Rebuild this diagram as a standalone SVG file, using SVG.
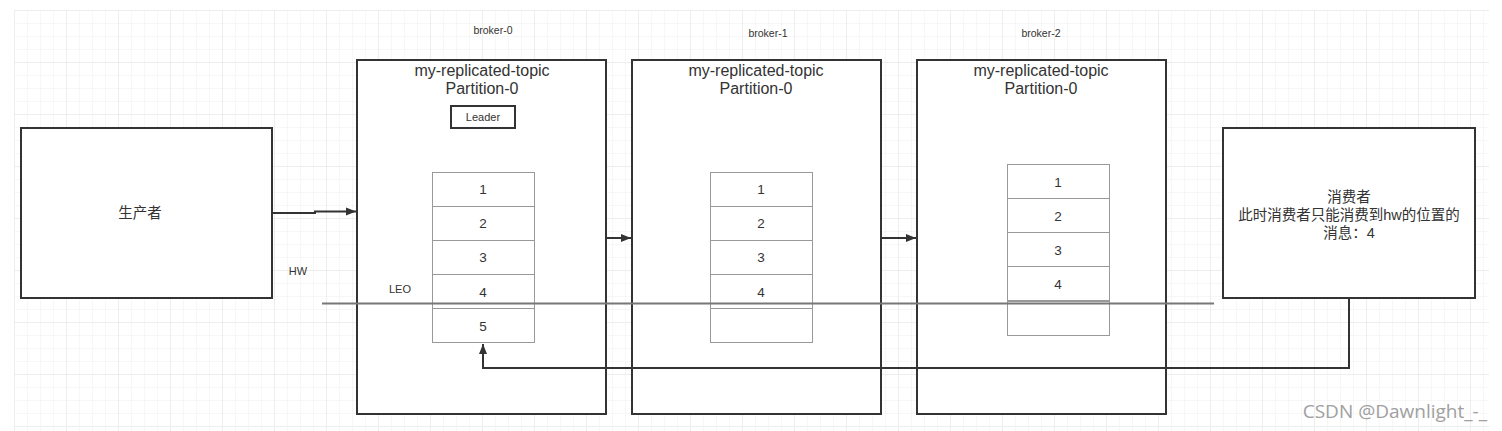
<svg xmlns="http://www.w3.org/2000/svg" width="1502" height="431" viewBox="0 0 1502 431">
<defs>
<pattern id="minor" x="14" y="10" width="13" height="13" patternUnits="userSpaceOnUse">
<path d="M0,0 H13 M0,0 V13" fill="none" stroke="#f0f0f0" stroke-width="1"/>
</pattern>
<pattern id="major" x="14" y="10" width="52" height="52" patternUnits="userSpaceOnUse">
<path d="M0,0 H52 M0,0 V52" fill="none" stroke="#e6e6e6" stroke-width="1"/>
</pattern>
<marker id="arr" viewBox="0 0 10 10" refX="10" refY="5" markerWidth="10" markerHeight="10" markerUnits="userSpaceOnUse" orient="auto">
<path d="M0,1 L10,5 L0,9 Z" fill="#333"/>
</marker>
<style>
.box{fill:#fff;stroke:#333;stroke-width:2}
.cell{fill:#fff;stroke:#999;stroke-width:1}
.t{font-family:"Liberation Sans","Noto Sans CJK SC",sans-serif;fill:#333;text-anchor:middle}
.title{font-size:16px}
.num{font-size:13.5px}
.small{font-size:10.5px}
.lbl{font-size:11px}
.cn{font-size:14.5px}
.con{fill:none;stroke:#333;stroke-width:2}
</style>
</defs>
<rect width="1502" height="431" fill="#fff"/>
<rect x="14" y="10" width="1475" height="421" fill="url(#minor)"/>
<rect x="14" y="10" width="1475" height="421" fill="url(#major)"/>

<g id="producer">
<rect class="box" x="21" y="128" width="251" height="170"/>
<text class="t cn" x="140" y="218">生产者</text>
</g>

<g id="broker-0">
<text class="t small" x="493" y="34">broker-0</text>
<rect class="box" x="357" y="60" width="249" height="354"/>
<text class="t title" x="482" y="76">my-replicated-topic</text>
<text class="t title" x="482" y="94">Partition-0</text>
<rect class="box" x="451" y="106" width="64" height="22"/>
<text class="t lbl" x="483" y="121">Leader</text>
<rect class="cell" x="432.5" y="172.5" width="102" height="34"/>
<rect class="cell" x="432.5" y="206.5" width="102" height="34"/>
<rect class="cell" x="432.5" y="240.5" width="102" height="34"/>
<rect class="cell" x="432.5" y="274.5" width="102" height="34"/>
<rect class="cell" x="432.5" y="308.5" width="102" height="34"/>
<text class="t num" x="483" y="194">1</text>
<text class="t num" x="483" y="228">2</text>
<text class="t num" x="483" y="262">3</text>
<text class="t num" x="483" y="297">4</text>
<text class="t num" x="483" y="331">5</text>
</g>

<g id="broker-1">
<text class="t small" x="768" y="37">broker-1</text>
<rect class="box" x="632" y="60" width="249" height="354"/>
<text class="t title" x="756" y="76">my-replicated-topic</text>
<text class="t title" x="756" y="94">Partition-0</text>
<rect class="cell" x="710.5" y="172.5" width="102" height="34"/>
<rect class="cell" x="710.5" y="206.5" width="102" height="34"/>
<rect class="cell" x="710.5" y="240.5" width="102" height="34"/>
<rect class="cell" x="710.5" y="274.5" width="102" height="34"/>
<rect class="cell" x="710.5" y="308.5" width="102" height="34"/>
<text class="t num" x="761" y="194">1</text>
<text class="t num" x="761" y="228">2</text>
<text class="t num" x="761" y="262">3</text>
<text class="t num" x="761" y="297">4</text>
</g>

<g id="broker-2">
<text class="t small" x="1041" y="37">broker-2</text>
<rect class="box" x="917" y="60" width="249" height="354"/>
<text class="t title" x="1041" y="76">my-replicated-topic</text>
<text class="t title" x="1041" y="94">Partition-0</text>
<rect class="cell" x="1007.5" y="164.5" width="102" height="34"/>
<rect class="cell" x="1007.5" y="198.5" width="102" height="34"/>
<rect class="cell" x="1007.5" y="232.5" width="102" height="34"/>
<rect class="cell" x="1007.5" y="266.5" width="102" height="34"/>
<rect class="cell" x="1007.5" y="301.5" width="102" height="34"/>
<text class="t num" x="1058" y="187">1</text>
<text class="t num" x="1058" y="221">2</text>
<text class="t num" x="1058" y="255">3</text>
<text class="t num" x="1058" y="289">4</text>
</g>

<g id="consumer">
<rect class="box" x="1223" y="128" width="252" height="170"/>
<text class="t cn" x="1349" y="202">消费者</text>
<text class="t cn" x="1349" y="220">此时消费者只能消费到hw的位置的</text>
<text class="t cn" x="1349" y="238">消息：4</text>
</g>

<g id="hw-line">
<line x1="322" y1="303.5" x2="1214" y2="303.5" stroke="#777" stroke-width="2"/>
<text class="t lbl" x="298" y="275">HW</text>
<text class="t lbl" x="400" y="293">LEO</text>
</g>

<g id="connectors">
<path class="con" d="M272,213 H315 V211.5 H356" marker-end="url(#arr)"/>
<path class="con" d="M606,238 H631" marker-end="url(#arr)"/>
<path class="con" d="M881,238 H916" marker-end="url(#arr)"/>
<path class="con" d="M1349,298 V368 H483 V344" marker-end="url(#arr)"/>
</g>

<text x="1487" y="418" font-family="'Open Sans','Liberation Sans',sans-serif" font-size="19" fill="#a0a0a0" text-anchor="end">CSDN @Dawnlight_-_</text>
</svg>
